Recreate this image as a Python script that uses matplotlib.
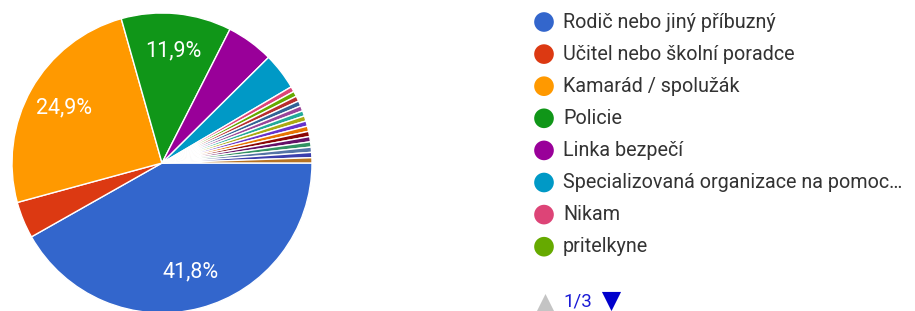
import matplotlib
matplotlib.use('Agg')
import matplotlib.pyplot as plt

# response counts (177 answers total), first 8 categories shown on legend page 1/3
labels = ["Rodič nebo jiný příbuzný", "Učitel nebo školní poradce", "Kamarád / spolužák",
          "Policie", "Linka bezpečí", "Specializovaná organizace na pomoc…",
          "Nikam", "pritelkyne"]
counts = [74, 7, 44, 21, 9, 7, 1, 1, 1, 1, 1, 1, 1, 1, 1, 1, 1, 1, 1, 1, 1]
colors = ["#3366cc", "#dc3912", "#ff9900", "#109618", "#990099", "#0099c6",
          "#dd4477", "#66aa00", "#b82e2e", "#316395", "#994499", "#22aa99",
          "#aaaa11", "#6633cc", "#e67300", "#8b0707", "#651067", "#329262",
          "#5574a6", "#3b3eac", "#b77322"]
page_text = "1/3"

plt.rcParams['font.family'] = ['Roboto', 'DejaVu Sans']

W, H = 915, 311
fig = plt.figure(figsize=(W / 100, H / 100), dpi=100)

# pie axes, centre at (162, 163) px, radius 150 px
cx, cy, r = 162, 163, 150
ax = fig.add_axes([(cx - r) / W, (H - cy - r) / H, 2 * r / W, 2 * r / H])


def pct_label(p):
    return f"{p:.1f}".replace('.', ',') + "%" if p > 10 else ""


wedges, texts, autotexts = ax.pie(
    counts, colors=colors, startangle=0, counterclock=False,
    autopct=pct_label, pctdistance=0.75,
    wedgeprops=dict(edgecolor='white', linewidth=1.0),
    textprops=dict(color='white', fontsize=15.5))
ax.set_xlim(-1, 1)
ax.set_ylim(-1, 1)
ax.set_aspect('equal')
ax.axis('off')

# legend drawn in pixel coordinates
lg = fig.add_axes([0, 0, 1, 1])
lg.set_xlim(0, W)
lg.set_ylim(H, 0)
lg.axis('off')
row_y = [22 + i * 32.1 for i in range(len(labels))]
lg.scatter([544] * len(labels), row_y, s=200, c=colors[:len(labels)], marker='o', linewidths=0)
for lab, y in zip(labels, row_y):
    lg.text(563, y, lab, fontsize=14.2, color='#333333', va='center', ha='left')

# page navigation
lg.scatter([545], [302], s=150, marker='^', c='#c4c4c4', linewidths=0)
lg.text(563, 302, page_text, fontsize=13.5, color='#1a1ad6', va='center', ha='left')
lg.scatter([611], [301], s=190, marker='v', c='#0000cc', linewidths=0)

fig.savefig('out.png', dpi=100)
